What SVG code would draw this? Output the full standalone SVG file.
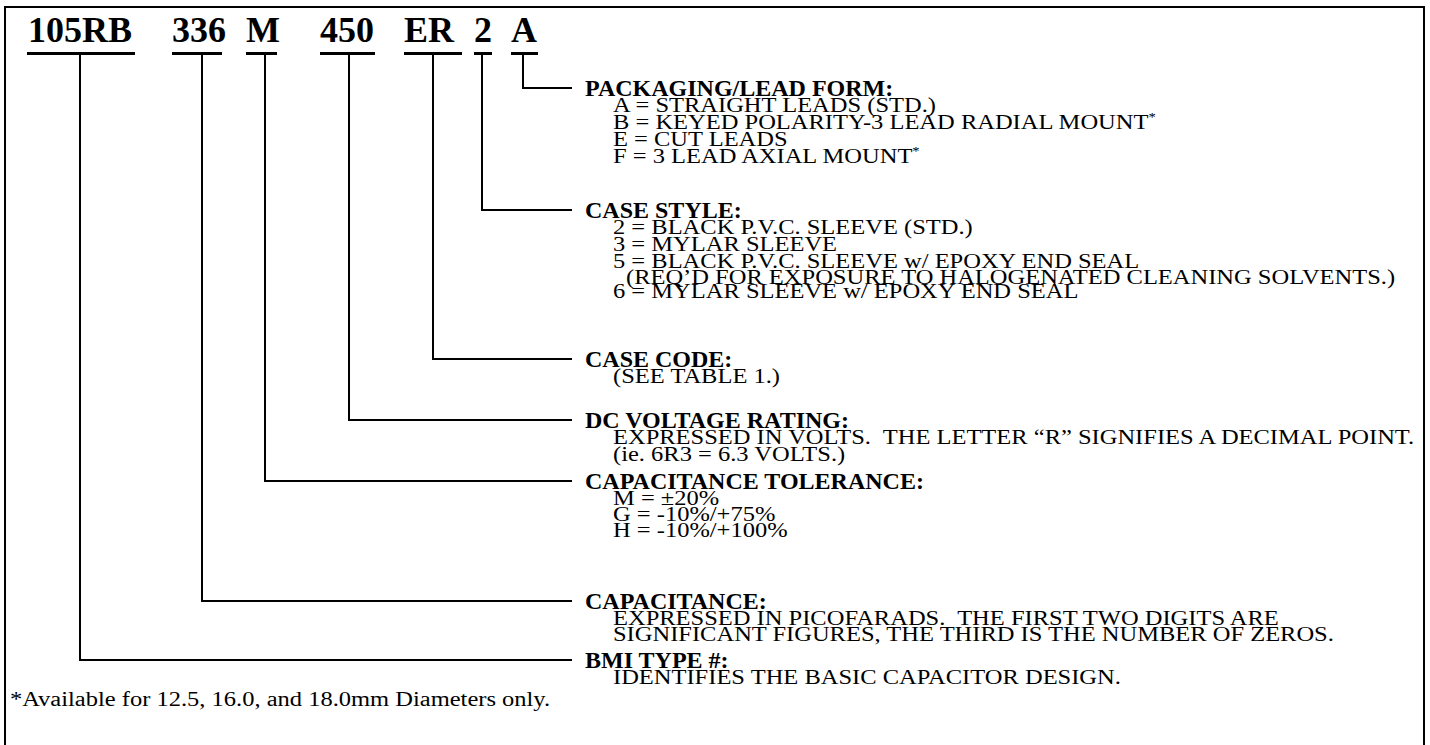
<svg xmlns="http://www.w3.org/2000/svg" width="1430" height="745" viewBox="0 0 1430 745">
<style>
text{font-family:"Liberation Serif","Times New Roman",serif;fill:#000;white-space:pre}
.hd{font-size:36px;font-weight:bold}
.lb{font-size:24px;font-weight:bold}
.tx{font-size:20px}
.sup{font-size:12px}
.ul{fill:#000}
.cn{fill:none;stroke:#000;stroke-width:2}
</style>
<rect width="1430" height="745" fill="#fff"/>
<path d="M5,750 V7 H1424 V750" fill="none" stroke="#000" stroke-width="2"/>
<g id="code">
<text class="hd" x="28" y="42">105RB</text>
<text class="hd" x="172" y="42">336</text>
<text class="hd" x="246" y="42">M</text>
<text class="hd" x="320" y="42">450</text>
<text class="hd" x="404" y="42">ER</text>
<text class="hd" x="474" y="42">2</text>
<text class="hd" x="511" y="42">A</text>
<rect class="ul" x="27" y="52" width="108" height="3"/>
<rect class="ul" x="172" y="52" width="50" height="3"/>
<rect class="ul" x="246" y="52" width="31" height="3"/>
<rect class="ul" x="320" y="52" width="55" height="3"/>
<rect class="ul" x="404" y="52" width="58" height="3"/>
<rect class="ul" x="474" y="52" width="18" height="3"/>
<rect class="ul" x="511" y="52" width="27" height="3"/>
</g>
<g id="connectors">
<polyline class="cn" points="523,55 523,88 572,88"/>
<polyline class="cn" points="482,55 482,210 572,210"/>
<polyline class="cn" points="433,55 433,359 572,359"/>
<polyline class="cn" points="349,55 349,420 572,420"/>
<polyline class="cn" points="265,55 265,481 572,481"/>
<polyline class="cn" points="202,55 202,601 572,601"/>
<polyline class="cn" points="80,55 80,660 572,660"/>
</g>
<g id="packaging">
<text class="lb" x="585" y="96">PACKAGING/LEAD FORM:</text>
<g transform="translate(613,0) scale(1.225,1)">
<text class="tx" y="112">A = STRAIGHT LEADS (STD.)</text>
<text class="tx" y="129">B = KEYED POLARITY-3 LEAD RADIAL MOUNT<tspan class="sup" dy="-8">*</tspan></text>
<text class="tx" y="146">E = CUT LEADS</text>
<text class="tx" y="163">F = 3 LEAD AXIAL MOUNT<tspan class="sup" dy="-8">*</tspan></text>
</g>
</g>
<g id="case-style">
<text class="lb" x="585" y="218">CASE STYLE:</text>
<g transform="translate(613,0) scale(1.225,1)">
<text class="tx" y="234">2 = BLACK P.V.C. SLEEVE (STD.)</text>
<text class="tx" y="251">3 = MYLAR SLEEVE</text>
<text class="tx" y="268">5 = BLACK P.V.C. SLEEVE w/ EPOXY END SEAL</text>
<text class="tx" x="10.6" y="284">(REQ’D FOR EXPOSURE TO HALOGENATED CLEANING SOLVENTS.)</text>
<text class="tx" y="298">6 = MYLAR SLEEVE w/ EPOXY END SEAL</text>
</g>
</g>
<g id="case-code">
<text class="lb" x="585" y="367">CASE CODE:</text>
<g transform="translate(613,0) scale(1.225,1)">
<text class="tx" y="383">(SEE TABLE 1.)</text>
</g>
</g>
<g id="dc-voltage">
<text class="lb" x="585" y="428">DC VOLTAGE RATING:</text>
<g transform="translate(613,0) scale(1.225,1)">
<text class="tx" y="444">EXPRESSED IN VOLTS.  THE LETTER “R” SIGNIFIES A DECIMAL POINT.</text>
<text class="tx" y="461">(ie. 6R3 = 6.3 VOLTS.)</text>
</g>
</g>
<g id="tolerance">
<text class="lb" x="585" y="489">CAPACITANCE TOLERANCE:</text>
<g transform="translate(613,0) scale(1.225,1)">
<text class="tx" y="505">M = ±20%</text>
<text class="tx" y="521">G = -10%/+75%</text>
<text class="tx" y="537">H = -10%/+100%</text>
</g>
</g>
<g id="capacitance">
<text class="lb" x="585" y="609">CAPACITANCE:</text>
<g transform="translate(613,0) scale(1.225,1)">
<text class="tx" y="625">EXPRESSED IN PICOFARADS.  THE FIRST TWO DIGITS ARE</text>
<text class="tx" y="641">SIGNIFICANT FIGURES, THE THIRD IS THE NUMBER OF ZEROS.</text>
</g>
</g>
<g id="bmi-type">
<text class="lb" x="585" y="668">BMI TYPE #:</text>
<g transform="translate(613,0) scale(1.225,1)">
<text class="tx" y="684">IDENTIFIES THE BASIC CAPACITOR DESIGN.</text>
</g>
</g>
<g id="footnote" transform="translate(10,706) scale(1.225,1)">
<text class="tx">*Available for 12.5, 16.0, and 18.0mm Diameters only.</text>
</g>
</svg>
